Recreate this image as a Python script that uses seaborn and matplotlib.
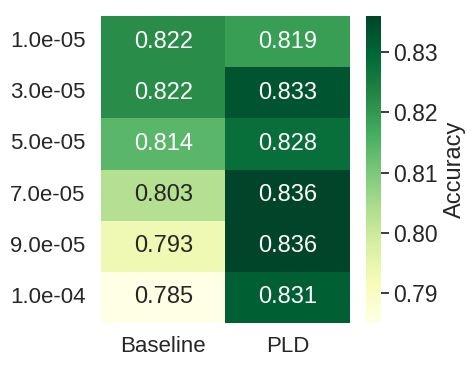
import numpy as np
import pandas as pd
import matplotlib
matplotlib.use('Agg')
import matplotlib.pyplot as plt
import seaborn as sns

# --- données ---
learning_rates = ['1.0e-05', '3.0e-05', '5.0e-05', '7.0e-05', '9.0e-05', '1.0e-04']
methods = ['Baseline', 'PLD']
baseline_acc = [0.822, 0.822, 0.814, 0.803, 0.793, 0.785]
pld_acc = [0.819, 0.833, 0.828, 0.836, 0.836, 0.831]

df = pd.DataFrame({'Baseline': baseline_acc, 'PLD': pld_acc}, index=learning_rates)

sns.set_theme(style='white', font_scale=1.4)
plt.rcParams['font.family'] = ['Liberation Sans', 'DejaVu Sans']

fig = plt.figure(figsize=(4.77, 3.66), dpi=100)
ax = fig.add_axes([101 / 477, 1 - 323 / 366, 249 / 477, 307 / 366])
cax = fig.add_axes([366 / 477, 1 - 323 / 366, 15 / 477, 307 / 366])

sns.heatmap(df, ax=ax, cbar_ax=cax, cmap='YlGn', annot=True, fmt='.3f',
            annot_kws={'fontsize': 17}, vmin=0.785, vmax=0.836)

ax.tick_params(axis='y', labelsize=16, length=0, pad=11, colors='#262626')
ax.tick_params(axis='x', labelsize=16, length=0, pad=9, colors='#262626')
ax.set_yticklabels(learning_rates, rotation=0)
ax.set_xticklabels(methods, rotation=0)
cax.tick_params(axis='y', right=True, labelsize=16.5, length=6, width=1.25,
                colors='#262626', pad=3)
cax.set_yticks([0.79, 0.80, 0.81, 0.82, 0.83])
cax.set_yticklabels(['0.79', '0.80', '0.81', '0.82', '0.83'])
cax.set_ylabel('Accuracy', fontsize=17, color='#262626')

plt.savefig('out.png', dpi=100)
